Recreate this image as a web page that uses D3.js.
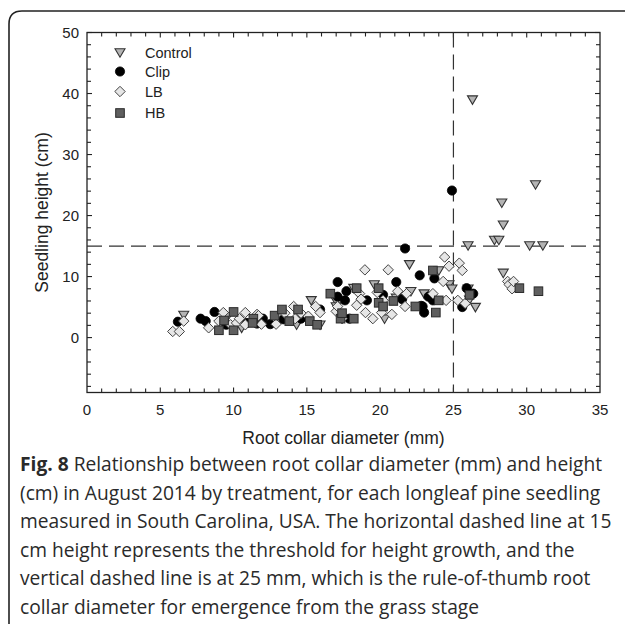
<!DOCTYPE html>
<html>
<head>
<meta charset="utf-8">
<script src="https://cdn.jsdelivr.net/npm/d3@7"></script>
<style>
  html, body { margin: 0; padding: 0; background: #fff; }
  svg { display: block; }
</style>
</head>
<body>
<svg id="chart" width="625" height="624"></svg>
<script>
// Root collar diameter (mm) vs seedling height (cm), by treatment
const controlPts = [
  [6.6,3.7],[9.6,3.5],[10.55,1.6],[14.3,2.1],[15.3,6.1],[15.9,2.1],[17.0,6.0],[17.0,5.1],
  [18.2,8.1],[19.6,8.7],[20.3,3.1],[21.1,6.5],[22.0,12.0],[22.1,7.6],[23.0,7.2],[24.0,11.0],
  [24.7,8.7],[24.9,8.0],[26.0,8.0],[26.1,6.2],[26.5,5.0],[26.0,15.1],[26.3,39.0],[27.8,16.0],
  [28.1,16.0],[28.3,22.1],[28.4,18.5],[28.4,10.6],[30.2,15.1],[30.6,25.1],[31.1,15.1]
];
const clipPts = [
  [6.2,2.6],[7.75,3.1],[8.1,2.7],[8.7,4.2],[9.5,2.1],[10.9,2.4],[11.6,2.3],[12.0,3.1],
  [12.5,2.2],[13.4,3.0],[14.6,3.1],[15.9,4.6],[17.1,9.1],[17.7,7.6],[17.1,6.7],[17.6,6.1],
  [17.9,3.1],[19.1,6.1],[20.2,7.0],[21.1,9.1],[21.5,6.3],[21.7,14.6],[22.7,10.2],[22.9,5.1],
  [23.0,4.1],[22.8,5.2],[23.3,6.7],[23.6,6.1],[23.7,9.7],[24.9,24.1],[25.6,5.0],[25.9,8.1],
  [26.35,7.2]
];
const lbPts = [
  [5.85,1.0],[6.3,1.0],[6.6,2.7],[8.3,1.6],[9.3,4.1],[9.0,2.7],[9.8,2.1],[10.2,2.4],
  [10.4,3.1],[10.8,4.1],[10.8,2.1],[11.6,3.8],[11.7,3.6],[11.9,2.2],[12.9,2.2],[13.5,4.0],
  [14.1,5.1],[14.2,3.1],[14.6,4.0],[15.1,3.5],[15.6,5.1],[15.9,4.1],[17.0,4.3],[17.1,5.1],
  [17.4,3.1],[18.4,5.3],[18.6,7.2],[18.7,6.3],[18.96,11.1],[19.0,4.1],[19.5,3.1],[19.8,7.4],
  [20.1,4.1],[20.2,6.1],[20.55,11.1],[20.8,3.8],[21.2,7.6],[21.7,5.1],[21.8,7.2],[23.6,7.2],
  [24.3,9.2],[24.4,13.2],[24.5,6.1],[24.7,11.7],[25.3,6.1],[25.4,12.2],[25.6,11.0],[25.8,5.6],
  [28.7,9.2],[28.8,8.7],[29.0,8.0],[29.1,9.2]
];
const hbPts = [
  [9.0,1.2],[9.35,2.8],[10.0,4.2],[10.0,1.2],[11.35,3.1],[11.3,2.4],[12.8,3.6],[13.3,4.6],
  [13.8,2.7],[14.4,4.6],[15.2,2.7],[15.7,2.1],[16.6,7.2],[17.3,3.1],[17.4,4.0],[18.2,3.1],
  [18.4,8.1],[19.9,8.1],[19.9,5.7],[20.2,5.1],[20.9,6.0],[22.4,5.1],[23.6,11.0],[23.8,4.1],
  [24.0,6.1],[26.1,7.0],[29.5,8.1],[30.8,7.6]
];
const seriesNames = ["Control", "Clip", "LB", "HB"];
const xTickValues = [0, 5, 10, 15, 20, 25, 30, 35];
const yTickValues = [0, 10, 20, 30, 40, 50];
const heightThreshold = 15;   // cm
const diameterThreshold = 25; // mm

const captionLines = [
  ["Fig. 8", " Relationship between root collar diameter (mm) and height"],
  ["", "(cm) in August 2014 by treatment, for each longleaf pine seedling"],
  ["", "measured in South Carolina, USA. The horizontal dashed line at 15"],
  ["", "cm height represents the threshold for height growth, and the"],
  ["", "vertical dashed line is at 25 mm, which is the rule-of-thumb root"],
  ["", "collar diameter for emergence from the grass stage"]
];

const svg = d3.select("#chart");
const plot = { left: 87, right: 600, top: 32.5, bottom: 392.5 };

const x = d3.scaleLinear().domain([0, 35]).range([plot.left, plot.right]);
const y = d3.scaleLinear().domain([-9, 50]).range([plot.bottom, plot.top]);

// outer figure frame with rounded corner
svg.append("path")
  .attr("d", "M9,624 L9,24 Q9,11 22,11 L625,11")
  .attr("fill", "none").attr("stroke", "#222").attr("stroke-width", 1.6);

const axisColor = "#222";
const tickFont = "'Liberation Sans', Arial, sans-serif";

// plot box
svg.append("rect")
  .attr("x", plot.left).attr("y", plot.top)
  .attr("width", plot.right - plot.left).attr("height", plot.bottom - plot.top)
  .attr("fill", "none").attr("stroke", axisColor).attr("stroke-width", 1.3);

// inward ticks on all four sides
const xMinor = d3.range(1, 35, 1);
const yMinor = d3.range(-8, 51, 2);
const ticksG = svg.append("g").attr("stroke", axisColor).attr("stroke-width", 1.1);
xMinor.forEach(v => {
  const len = (v % 5 === 0) ? 5 : 4;
  ticksG.append("line").attr("x1", x(v)).attr("x2", x(v)).attr("y1", plot.bottom).attr("y2", plot.bottom - len);
  ticksG.append("line").attr("x1", x(v)).attr("x2", x(v)).attr("y1", plot.top).attr("y2", plot.top + len);
});
yMinor.forEach(v => {
  const len = (v % 10 === 0) ? 5 : 4;
  ticksG.append("line").attr("y1", y(v)).attr("y2", y(v)).attr("x1", plot.left).attr("x2", plot.left + len);
  ticksG.append("line").attr("y1", y(v)).attr("y2", y(v)).attr("x1", plot.right).attr("x2", plot.right - len);
});

// tick labels
svg.append("g").selectAll("text").data(xTickValues).join("text")
  .attr("x", d => x(d)).attr("y", 415)
  .attr("text-anchor", "middle")
  .attr("font-family", tickFont).attr("font-size", 15).attr("fill", "#222")
  .text(d => d);
svg.append("g").selectAll("text").data(yTickValues).join("text")
  .attr("x", 79).attr("y", d => y(d) + 5.5)
  .attr("text-anchor", "end")
  .attr("font-family", tickFont).attr("font-size", 15).attr("fill", "#222")
  .text(d => d);

// axis titles
svg.append("text")
  .attr("x", (plot.left + plot.right) / 2).attr("y", 444)
  .attr("text-anchor", "middle")
  .attr("font-family", tickFont).attr("font-size", 17.5).attr("fill", "#222")
  .text("Root collar diameter (mm)");
svg.append("text")
  .attr("transform", `translate(48,${(plot.top + plot.bottom) / 2}) rotate(-90)`)
  .attr("text-anchor", "middle")
  .attr("font-family", tickFont).attr("font-size", 17.5).attr("fill", "#222")
  .text("Seedling height (cm)");

// reference dashed lines
svg.append("line")
  .attr("x1", plot.left).attr("x2", plot.right)
  .attr("y1", y(heightThreshold)).attr("y2", y(heightThreshold))
  .attr("stroke", "#333").attr("stroke-width", 1.2).attr("stroke-dasharray", "15,7");
svg.append("line")
  .attr("x1", x(diameterThreshold)).attr("x2", x(diameterThreshold))
  .attr("y1", plot.top).attr("y2", plot.bottom)
  .attr("stroke", "#333").attr("stroke-width", 1.2).attr("stroke-dasharray", "15,7");

// marker styles per treatment
const styles = {
  Control: { shape: "tri", fill: "#b4b4b4", stroke: "#333" },
  Clip:    { shape: "circle", fill: "#000", stroke: "#000" },
  LB:      { shape: "diamond", fill: "#e6e6e6", stroke: "#444" },
  HB:      { shape: "square", fill: "#5f5f5f", stroke: "#2a2a2a" }
};

function drawMarker(g, name, cx, cy) {
  const s = styles[name];
  if (s.shape === "circle") {
    g.append("circle").attr("cx", cx).attr("cy", cy).attr("r", 4.6)
      .attr("fill", s.fill).attr("stroke", s.stroke).attr("stroke-width", 0.8);
  } else if (s.shape === "tri") {
    const w = 5, h = 8.5;
    g.append("path")
      .attr("d", `M${cx - w},${cy - h / 2 + 0.5}L${cx + w},${cy - h / 2 + 0.5}L${cx},${cy + h / 2 + 0.5}Z`)
      .attr("fill", s.fill).attr("stroke", s.stroke).attr("stroke-width", 1.1);
  } else if (s.shape === "diamond") {
    const r = 5.2;
    g.append("path")
      .attr("d", `M${cx},${cy - r}L${cx + r},${cy}L${cx},${cy + r}L${cx - r},${cy}Z`)
      .attr("fill", s.fill).attr("stroke", s.stroke).attr("stroke-width", 1.0);
  } else {
    const r = 4.3;
    g.append("rect").attr("x", cx - r).attr("y", cy - r).attr("width", 2 * r).attr("height", 2 * r)
      .attr("fill", s.fill).attr("stroke", s.stroke).attr("stroke-width", 1.0);
  }
}

const seriesData = { Control: controlPts, Clip: clipPts, LB: lbPts, HB: hbPts };
const marks = svg.append("g");
seriesNames.forEach(name => {
  const g = marks.append("g").attr("class", "series-" + name);
  seriesData[name].forEach(d => drawMarker(g, name, x(d[0]), y(d[1])));
});

// legend
const legendRows = [52.5, 71.5, 91.5, 113];
seriesNames.forEach((name, i) => {
  const g = svg.append("g");
  drawMarker(g, name, 120, legendRows[i]);
  g.append("text").attr("x", 145).attr("y", legendRows[i] + 5)
    .attr("font-family", tickFont).attr("font-size", 14.5).attr("fill", "#222")
    .text(name);
});

// caption
const capFont = "'Open Sans', 'Noto Sans', sans-serif";
captionLines.forEach((ln, i) => {
  const t = svg.append("text")
    .attr("x", 20).attr("y", 471 + i * 28.5)
    .attr("font-family", capFont).attr("font-size", 19.2).attr("fill", "#2a2a2a");
  if (ln[0]) t.append("tspan").attr("font-weight", "bold").text(ln[0]);
  t.append("tspan").text(ln[1]);
});
</script>
</body>
</html>
